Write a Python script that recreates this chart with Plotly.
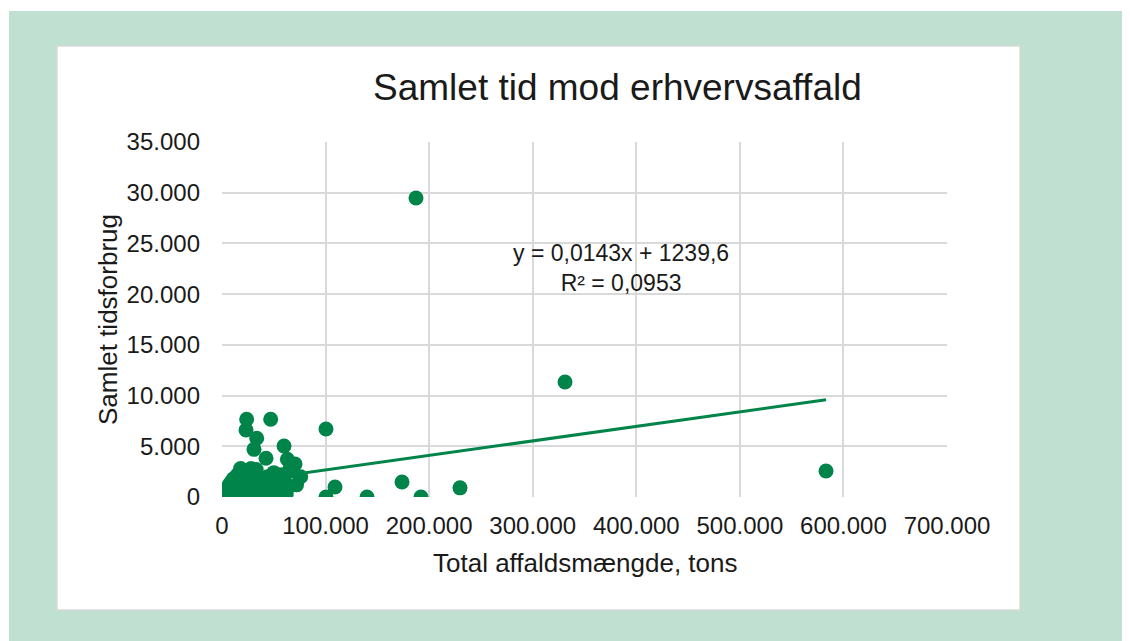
import plotly.graph_objects as go

# Total waste (tons) vs. total time spent
affald_tons = [
    187300, 331200, 583200, 229800, 192100, 173800, 140000, 109100, 100400, 100400,
    23800, 47000, 23200, 33500, 30900, 59900, 42500, 63100, 70500, 68000,
    76000, 72000, 64000, 58000, 55000, 52000, 48000, 44000, 40000, 38000,
    36000, 33000, 30000, 28000, 26000, 24000, 22000, 20000, 18000, 17000,
    15000, 14000, 12000, 11000, 10000, 8000, 7000, 5000, 4000, 3000,
    2000, 1000, 500, 15000, 26000, 35000, 45000, 60000, 50000, 62000,
    29000, 19000, 9000, 57000, 66000,
]
tidsforbrug = [
    29480, 11340, 2560, 900, 0, 1480, 0, 990, 6700, 0,
    7660, 7660, 6600, 5790, 4700, 5030, 3820, 3720, 3250, 2600,
    2000, 1200, 1000, 2200, 600, 0, 1500, 2000, 0, 800,
    1800, 2700, 0, 2800, 1200, 0, 2500, 1900, 2800, 0,
    2200, 1000, 0, 1800, 500, 0, 1200, 300, 0, 600,
    0, 100, 0, 400, 600, 300, 200, 1800, 2400, 300,
    1600, 900, 1500, 0, 2900,
]

# Linear trendline as stated on the chart
haeldning = 0.0143
skaering = 1239.6
trend_x = [min(affald_tons), max(affald_tons)]
trend_y = [haeldning * v + skaering for v in trend_x]

groen = '#00844A'
font = 'Liberation Sans, Arial, sans-serif'

W, H = 1122, 633
# plot area inside the figure (page offset of 8px already removed)
L, R, T, B = 214, 939, 134, 489


def px(x):
    return (x - L) / (R - L)


def py(y):
    return (B - y) / (B - T)


def tekst(t, x, y, size, **kw):
    return dict(text=t, xref='paper', yref='paper', x=px(x), y=py(y),
                xanchor='center', yanchor='middle', showarrow=False,
                font=dict(size=size), **kw)


fig = go.Figure()
fig.add_trace(go.Scatter(x=trend_x, y=trend_y, mode='lines',
                         line=dict(color=groen, width=3), hoverinfo='skip'))
fig.add_trace(go.Scatter(x=affald_tons, y=tidsforbrug, mode='markers',
                         marker=dict(color=groen, size=15)))

fig.update_layout(
    width=W, height=H,
    margin=dict(l=L, r=W - R, t=T, b=H - B),
    paper_bgcolor='white', plot_bgcolor='rgba(0,0,0,0)',
    separators=',.',
    showlegend=False,
    font=dict(family=font, color='#1a1a1a', size=24),
    shapes=[
        dict(type='rect', xref='paper', yref='paper', layer='below',
             x0=px(1), x1=px(W + 5), y0=py(H + 5), y1=py(3),
             fillcolor='#C0E1D2', line=dict(width=0)),
        dict(type='rect', xref='paper', yref='paper', layer='below',
             x0=px(49), x1=px(1012), y0=py(602), y1=py(38),
             fillcolor='white', line=dict(color='#D9D9D9', width=1.5)),
    ],
    annotations=[
        tekst('Samlet tid mod erhvervsaffald', 609, 79, 37),
        tekst('y = 0,0143x + 1239,6<br>R² = 0,0953', 613, 260, 23),
        tekst('Total affaldsmængde, tons', 577, 555, 26),
        tekst('Samlet tidsforbrug', 100, 312, 26, textangle=-90),
    ],
)
fig.update_xaxes(range=[0, 700000], dtick=100000, tickformat=',.0f',
                 showgrid=True, gridcolor='#D9D9D9', gridwidth=1.5,
                 zeroline=False, showline=False, ticks='',
                 ticklabelstandoff=12, tickfont=dict(size=24))
fig.update_yaxes(range=[0, 35000], dtick=5000, tickformat=',.0f',
                 showgrid=True, gridcolor='#D9D9D9', gridwidth=1.5,
                 zeroline=False, showline=False, ticks='',
                 ticklabelstandoff=21, tickfont=dict(size=24))

fig.write_html('out.html')
